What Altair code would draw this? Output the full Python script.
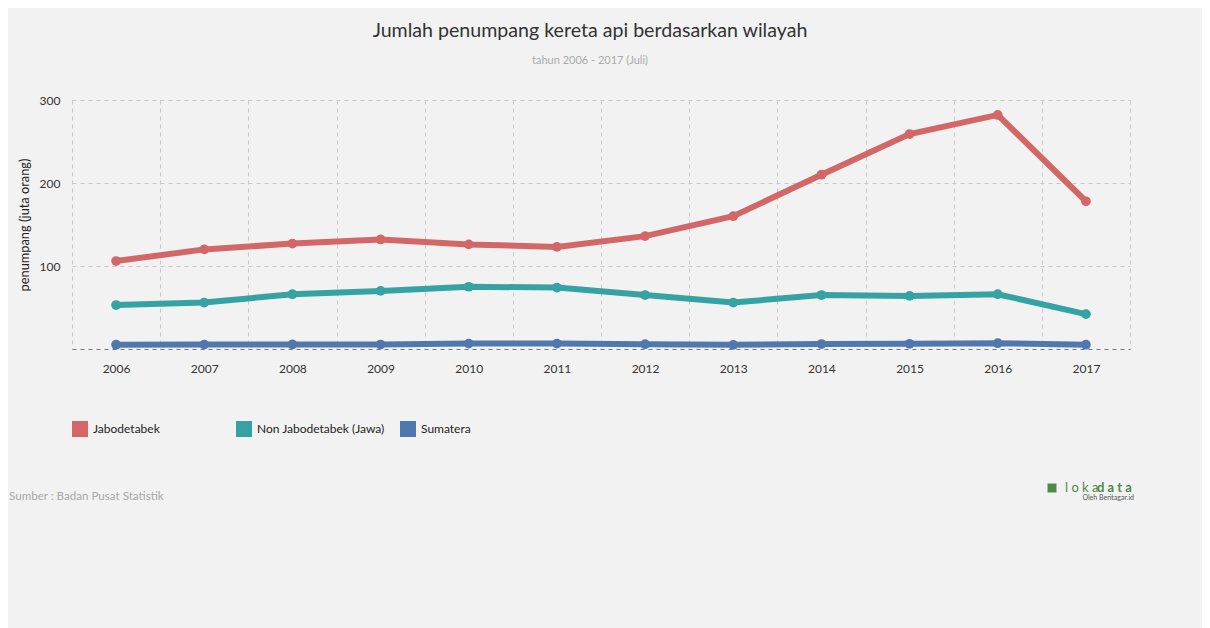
import altair as alt
import pandas as pd

years = [2006, 2007, 2008, 2009, 2010, 2011, 2012, 2013, 2014, 2015, 2016, 2017]
jabodetabek = [106, 120, 127, 132, 126, 123, 136, 160, 210, 259, 282, 178]
non_jabodetabek = [53, 56, 66, 70, 75, 74, 65, 56, 65, 64, 66, 42]
sumatera = [5.2, 5.3, 5.5, 5.4, 6.5, 6.5, 5.8, 5.0, 6.0, 6.3, 7.0, 5.2]

series_names = ["Jabodetabek", "Non Jabodetabek (Jawa)", "Sumatera"]
series_colors = ["#d36767", "#35a3a3", "#4f79ae"]

title_text = "Jumlah penumpang kereta api berdasarkan wilayah"
subtitle_text = "tahun 2006 - 2017 (Juli)"
y_title = "penumpang (juta orang)"
source_text = "Sumber : Badan Pusat Statistik"

rows = []
for name, vals in zip(series_names, [jabodetabek, non_jabodetabek, sumatera]):
    for yr, v in zip(years, vals):
        rows.append({"tahun": yr, "wilayah": name, "penumpang": v})
df = pd.DataFrame(rows)

x_values = []
for yr in years:
    x_values += [yr - 0.5, yr]
x_values.append(years[-1] + 0.5)

FONT = "Lato"

lines = alt.Chart(df).mark_line(
    strokeWidth=6,
    point=alt.OverlayMarkDef(size=95, filled=True, opacity=1),
).encode(
    x=alt.X(
        "tahun:Q",
        scale=alt.Scale(domain=[years[0] - 0.5, years[-1] + 0.5], nice=False, zero=False),
        axis=alt.Axis(
            values=x_values,
            labelExpr="datum.value % 1 == 0 ? format(datum.value, 'd') : ''",
            title=None,
            ticks=False,
            domain=False,
            grid=True,
            gridColor="#c8c8c8",
            gridDash=[4, 4],
            gridOpacity={"condition": {"test": "datum.value % 1 == 0", "value": 0}, "value": 1},
            labelPadding=14,
            labelFontSize=12,
            labelColor="#333333",
            labelFont=FONT,
        ),
    ),
    y=alt.Y(
        "penumpang:Q",
        scale=alt.Scale(domain=[0, 300], nice=False),
        axis=alt.Axis(
            values=[0, 100, 200, 300],
            labelExpr="datum.value == 0 ? '' : datum.label",
            title=y_title,
            titleFont=FONT,
            titleFontSize=12.8,
            titleFontWeight="normal",
            titleColor="#222222",
            titlePadding=8,
            ticks=False,
            domain=False,
            grid=True,
            gridDash=[4, 4],
            gridColor={"condition": {"test": "datum.value == 0", "value": "#777777"}, "value": "#c8c8c8"},
            labelPadding=12,
            labelFontSize=12,
            labelColor="#333333",
            labelFont=FONT,
        ),
    ),
    color=alt.Color(
        "wilayah:N",
        scale=alt.Scale(domain=series_names, range=series_colors),
        sort=series_names,
        legend=alt.Legend(
            title=None,
            orient="none",
            legendX=0,
            legendY=321,
            direction="horizontal",
            columns=3,
            gridAlign="all",
            columnPadding=15,
            symbolType="square",
            symbolSize=256,
            symbolStrokeWidth=0,
            symbolOpacity=1,
            labelFont=FONT,
            labelFontSize=12,
            labelColor="#222222",
            labelOffset=5,
        ),
    ),
)

src = alt.Chart(pd.DataFrame({"t": [source_text]})).mark_text(
    align="left", baseline="middle", font=FONT, fontSize=11.6, color="#a8a8a8"
).encode(text="t:N", x=alt.value(-63), y=alt.value(397))

logo_a = alt.Chart(pd.DataFrame({"t": ["l o k a"]})).mark_text(
    align="left", baseline="middle", font=FONT, fontSize=13, color="#4d8a45"
).encode(text="t:N", x=alt.value(993), y=alt.value(388))

logo_b = alt.Chart(pd.DataFrame({"t": ["d a t a"]})).mark_text(
    align="left", baseline="middle", font=FONT, fontSize=13, fontWeight="bold", color="#4d8a45"
).encode(text="t:N", x=alt.value(1025), y=alt.value(388))

logo_icon = alt.Chart(pd.DataFrame({"t": ["icon"]})).mark_point(
    shape="square", filled=True, size=80, color="#4d8a45", opacity=1
).encode(x=alt.value(980), y=alt.value(388))

logo_c = alt.Chart(pd.DataFrame({"t": ["Oleh Beritagar.id"]})).mark_text(
    align="right", baseline="middle", font=FONT, fontSize=7, color="#555555"
).encode(text="t:N", x=alt.value(1062), y=alt.value(398))

chart = alt.layer(lines, src, logo_icon, logo_a, logo_b, logo_c).properties(
    width=1058,
    height=249,
    autosize=alt.AutoSizeParams(type="none"),
    padding={"left": 64, "top": 92, "right": 72, "bottom": 279},
    background="#f2f2f2",
    title=alt.TitleParams(
        text=title_text,
        subtitle=subtitle_text,
        anchor="middle",
        dx=-11,
        offset=27,
        font=FONT,
        fontSize=19.6,
        fontWeight="normal",
        color="#333333",
        subtitleFont=FONT,
        subtitleFontSize=11,
        subtitleColor="#aaaaaa",
        subtitlePadding=13,
    ),
).configure_view(stroke=None)

chart.save("out.html", embed_options={"renderer": "svg", "actions": False})
